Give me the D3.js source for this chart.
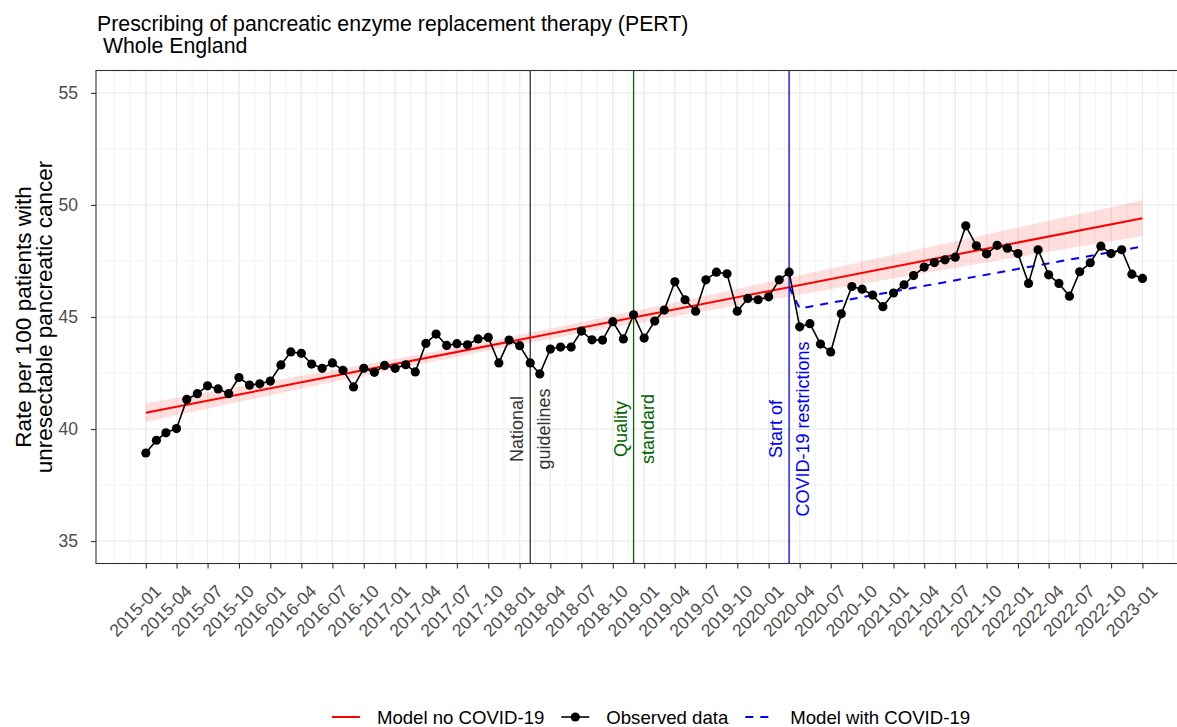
<!DOCTYPE html>
<html>
<head>
<meta charset="utf-8">
<script src="https://cdn.jsdelivr.net/npm/d3@7"></script>
<style>
  body { margin: 0; background: #fff; }
  svg { display: block; font-family: "Liberation Sans", Arial, sans-serif; }
</style>
</head>
<body>
<div id="chart"></div>
<script>
// monthly observed rate, first value is 2015-01, last is 2023-01
const firstMonth = "2015-01";
const lastMonth = "2023-01";
const observed = [
  38.93, 39.50, 39.83, 40.02, 41.32, 41.58, 41.93, 41.79, 41.58, 42.30, 41.96, 42.02,
  42.14, 42.86, 43.44, 43.38, 42.90, 42.71, 42.95, 42.62, 41.88, 42.71, 42.53, 42.84,
  42.71, 42.87, 42.55, 43.82, 44.24, 43.73, 43.81, 43.76, 44.02, 44.09, 42.95, 43.97,
  43.72, 42.95, 42.46, 43.57, 43.66, 43.66, 44.37, 43.98, 43.97, 44.79, 44.02, 45.10,
  44.06, 44.82, 45.31, 46.57, 45.77, 45.26, 46.66, 47.00, 46.93, 45.26, 45.83, 45.77,
  45.90, 46.66, 47.00, 44.56, 44.70, 43.79, 43.44, 45.14, 46.36, 46.24, 45.98, 45.46,
  46.07, 46.44, 46.85, 47.23, 47.43, 47.55, 47.67, 49.07, 48.18, 47.82, 48.20, 48.07,
  47.83, 46.50, 48.00, 46.88, 46.50, 45.93, 47.02, 47.42, 48.16, 47.83, 48.00, 46.91,
  46.72
];

// model without covid (straight trend) and its confidence band
const modelNoCovidMonths = ["2015-01", "2023-01"];
const modelNoCovid = [40.73, 49.41];
const ribbonMonths = ["2015-01", "2016-01", "2017-01", "2017-08", "2018-06", "2019-06", "2020-03", "2021-03", "2022-03", "2023-01"];
const ribbonLow  = [40.31, 41.51, 42.67, 43.32, 44.20, 45.19, 45.92, 46.87, 47.83, 48.62];
const ribbonHigh = [41.15, 42.13, 43.13, 43.74, 44.68, 45.85, 46.76, 47.97, 49.19, 50.20];

// model with covid
const modelCovidMonths = ["2020-03", "2020-04", "2023-01"];
const modelCovid = [46.35, 45.38, 48.15];

// events
const eventMonths = ["2018-02", "2018-12", "2020-03"];
const eventLabels = [["National", "guidelines"], ["Quality", "standard"], ["Start of", "COVID-19 restrictions"]];
const eventColors = ["#333333", "#006400", "#0000ff"];
const eventLabelY = 40;

const yTicks = [35, 40, 45, 50, 55];
const yLimits = [35, 55];
const legendLabels = ["Model no COVID-19", "Observed data", "Model with COVID-19"];

const width = 1177, height = 727;
const margin = { top: 70.5, left: 96, bottom: 163.5 };
const panelRight = 1192.3;   // panel runs past the right edge of the picture
const panelBottom = height - margin.bottom;

const parse = d3.utcParse("%Y-%m");
const fmt = d3.utcFormat("%Y-%m");

const t0 = parse(firstMonth), t1 = parse(lastMonth);
const months = d3.utcMonth.range(t0, d3.utcMonth.offset(t1, 1));
const data = observed.map((v, i) => ({ date: months[i], value: v }));

// ggplot style 5% expansion
const pad = (t1 - t0) * 0.05;
const x = d3.scaleUtc()
  .domain([new Date(+t0 - pad), new Date(+t1 + pad)])
  .range([margin.left, panelRight]);

const ySpan = yLimits[1] - yLimits[0];
const y = d3.scaleLinear()
  .domain([yLimits[0] - ySpan * 0.05, yLimits[1] + ySpan * 0.05])
  .range([panelBottom, margin.top]);

const svg = d3.select("#chart")
  .append("svg")
  .attr("width", width)
  .attr("height", height)
  .attr("viewBox", [0, 0, width, height]);

svg.append("clipPath").attr("id", "panel")
  .append("rect")
  .attr("x", margin.left).attr("y", margin.top)
  .attr("width", panelRight - margin.left).attr("height", panelBottom - margin.top);

// grid
const xMajor = d3.utcMonth.every(3).range(t0, d3.utcMonth.offset(t1, 1));
const xExt = [d3.utcMonth.offset(t0, -3), ...xMajor, d3.utcMonth.offset(t1, 3)];
const xMinor = d3.pairs(xExt).map(([a, b]) => new Date((+a + +b) / 2)).concat(xExt);
const yExt = [yLimits[0] - 5, ...yTicks, yLimits[1] + 5];
const yMinor = d3.pairs(yExt).map(([a, b]) => (a + b) / 2);

const grid = svg.append("g").attr("clip-path", "url(#panel)").attr("stroke", "#ebebeb");
grid.selectAll(".xmin").data(xMinor).join("line")
  .attr("x1", d => x(d)).attr("x2", d => x(d))
  .attr("y1", margin.top).attr("y2", panelBottom)
  .attr("stroke-width", 0.6);
grid.selectAll(".ymin").data(yMinor).join("line")
  .attr("x1", margin.left).attr("x2", panelRight)
  .attr("y1", d => y(d)).attr("y2", d => y(d))
  .attr("stroke-width", 0.6);
grid.selectAll(".xmaj").data(xMajor).join("line")
  .attr("x1", d => x(d)).attr("x2", d => x(d))
  .attr("y1", margin.top).attr("y2", panelBottom)
  .attr("stroke-width", 1.2);
grid.selectAll(".ymaj").data(yTicks).join("line")
  .attr("x1", margin.left).attr("x2", panelRight)
  .attr("y1", d => y(d)).attr("y2", d => y(d))
  .attr("stroke-width", 1.2);

const plot = svg.append("g").attr("clip-path", "url(#panel)");

// confidence band
const band = ribbonMonths.map((m, i) => ({ date: parse(m), lo: ribbonLow[i], hi: ribbonHigh[i] }));
plot.append("path")
  .datum(band)
  .attr("fill", "#ff0000")
  .attr("fill-opacity", 0.13)
  .attr("d", d3.area()
    .curve(d3.curveMonotoneX)
    .x(d => x(d.date))
    .y0(d => y(d.lo))
    .y1(d => y(d.hi)));

const line = d3.line().x(d => x(d.date)).y(d => y(d.value));

// vertical event lines
plot.selectAll(".event").data(eventMonths).join("line")
  .attr("x1", d => x(parse(d))).attr("x2", d => x(parse(d)))
  .attr("y1", margin.top).attr("y2", panelBottom)
  .attr("stroke", (d, i) => eventColors[i])
  .attr("stroke-width", 1.3);

plot.append("path")
  .datum(modelNoCovidMonths.map((m, i) => ({ date: parse(m), value: modelNoCovid[i] })))
  .attr("fill", "none")
  .attr("stroke", "#ff0000")
  .attr("stroke-width", 2)
  .attr("d", line);

plot.append("path")
  .datum(modelCovidMonths.map((m, i) => ({ date: parse(m), value: modelCovid[i] })))
  .attr("fill", "none")
  .attr("stroke", "#0000ff")
  .attr("stroke-width", 2)
  .attr("stroke-dasharray", "8,7")
  .attr("d", line);

// observed series
plot.append("path")
  .datum(data)
  .attr("fill", "none")
  .attr("stroke", "#000")
  .attr("stroke-width", 1.6)
  .attr("stroke-linejoin", "round")
  .attr("d", line);

plot.append("g")
  .selectAll("circle")
  .data(data)
  .join("circle")
  .attr("cx", d => x(d.date))
  .attr("cy", d => y(d.value))
  .attr("r", 4.6)
  .attr("fill", "#000");

// event labels, two lines rotated
eventMonths.forEach((m, i) => {
  const cx = x(parse(m));
  const g = svg.append("g")
    .attr("fill", eventColors[i])
    .attr("font-size", 18)
    .attr("text-anchor", "middle");
  eventLabels[i].forEach((txt, k) => {
    g.append("text")
      .attr("transform", `translate(${cx + (k === 0 ? -7 : 20)},${y(eventLabelY)}) rotate(-90)`)
      .text(txt);
  });
});

// panel border
svg.append("rect")
  .attr("x", margin.left).attr("y", margin.top)
  .attr("width", panelRight - margin.left).attr("height", panelBottom - margin.top)
  .attr("fill", "none")
  .attr("stroke", "#333333")
  .attr("stroke-width", 1.1);

// y axis
const yAxis = svg.append("g")
  .attr("transform", `translate(${margin.left},0)`)
  .call(d3.axisLeft(y).tickValues(yTicks).tickSize(5).tickPadding(13))
  .call(g => g.select(".domain").remove());
yAxis.selectAll(".tick line").attr("stroke", "#333333").attr("stroke-width", 1.1);
yAxis.selectAll(".tick text")
  .attr("fill", "#4d4d4d")
  .attr("font-size", 17.5)
  .attr("font-family", "Liberation Sans, Arial, sans-serif");

// x axis
const xAxis = svg.append("g")
  .attr("transform", `translate(0,${panelBottom})`)
  .call(d3.axisBottom(x).tickValues(xMajor).tickFormat(fmt).tickSize(5))
  .call(g => g.select(".domain").remove());
xAxis.selectAll(".tick line").attr("stroke", "#333333").attr("stroke-width", 1.1);
xAxis.selectAll(".tick text")
  .attr("fill", "#4d4d4d")
  .attr("font-size", 17.5)
  .attr("font-family", "Liberation Sans, Arial, sans-serif")
  .attr("text-anchor", "end")
  .attr("y", 0)
  .attr("dy", "0.71em")
  .attr("transform", "translate(7,20) rotate(-45)");

// y axis title
const yTitle = ["Rate per 100 patients with", "unresectable pancreatic cancer"];
const ymid = (margin.top + panelBottom) / 2;
yTitle.forEach((txt, k) => {
  svg.append("text")
    .attr("transform", `translate(${31 + k * 21},${ymid}) rotate(-90)`)
    .attr("text-anchor", "middle")
    .attr("font-size", 22.5)
    .attr("fill", "#000")
    .text(txt);
});

// title
const titleLines = ["Prescribing of pancreatic enzyme replacement therapy (PERT)", "\u00a0Whole England"];
titleLines.forEach((txt, k) => {
  svg.append("text")
    .attr("x", 97)
    .attr("y", 31 + k * 22)
    .attr("font-size", 21.3)
    .attr("fill", "#000")
    .text(txt);
});

// legend
const legendY = 717;
const legend = svg.append("g");
let lx = 0;
legendLabels.forEach((lab, i) => {
  const item = legend.append("g").attr("transform", `translate(${lx},0)`);
  const key = item.append("g");
  if (i === 0) {
    key.append("line").attr("x1", 0).attr("x2", 28).attr("stroke", "#ff0000").attr("stroke-width", 2);
  } else if (i === 1) {
    key.append("line").attr("x1", 0).attr("x2", 28).attr("stroke", "#000").attr("stroke-width", 1.6);
    key.append("circle").attr("cx", 14).attr("r", 4.6).attr("fill", "#000");
  } else {
    key.append("line").attr("x1", 0).attr("x2", 28).attr("stroke", "#0000ff").attr("stroke-width", 2)
      .attr("stroke-dasharray", "8,7");
  }
  const t = item.append("text")
    .attr("x", 45)
    .attr("dy", "0.35em")
    .attr("font-size", 18.6)
    .attr("fill", "#000")
    .text(lab);
  lx += 45 + t.node().getComputedTextLength() + 17;
});
const legendW = lx - 17;
legend.attr("transform", `translate(${651 - legendW / 2},${legendY})`);
</script>
</body>
</html>
